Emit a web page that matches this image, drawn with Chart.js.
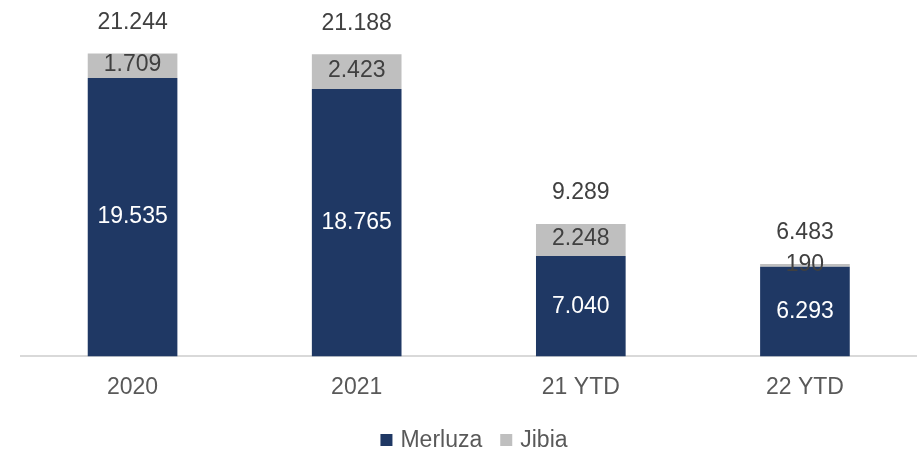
<!DOCTYPE html>
<html>
<head>
<meta charset="utf-8">
<script src="https://cdn.jsdelivr.net/npm/chart.js@4"></script>
<style>
  html, body { margin: 0; padding: 0; background: #fff; }
  #wrap { width: 917px; height: 452px; }
</style>
</head>
<body>
<div id="wrap"><canvas id="chart"></canvas></div>
<script>
// capturas por periodo (toneladas)
const periodos = ['2020', '2021', '21 YTD', '22 YTD'];
const merluza = [19535, 18765, 7040, 6293];
const jibia = [1709, 2423, 2248, 190];
const totales = [21244, 21188, 9289, 6483];

const colorMerluza = '#1F3864';
const colorJibia = '#BFBFBF';
const fuente = '"Liberation Sans", Arial, sans-serif';

// 21244 -> "21.244"
function formato(v) {
    return String(v).replace(/\B(?=(\d{3})+(?!\d))/g, '.');
}

// etiquetas dentro de cada tramo y total encima de la columna
const etiquetas = {
    id: 'etiquetas',
    afterDatasetsDraw(chart) {
        const ctx = chart.ctx;
        ctx.save();
        ctx.font = '23px ' + fuente;
        ctx.textAlign = 'center';
        ctx.textBaseline = 'middle';
        chart.data.datasets.forEach((ds, i) => {
            const meta = chart.getDatasetMeta(i);
            meta.data.forEach((bar, j) => {
                ctx.fillStyle = i === 0 ? '#FFFFFF' : '#404040';
                const y = (bar.y + bar.base) / 2;
                ctx.fillText(formato(ds.data[j]), bar.x, i === 0 ? y : y - 1);
            });
        });
        const top = chart.getDatasetMeta(1);
        top.data.forEach((bar, j) => {
            ctx.fillStyle = '#404040';
            ctx.fillText(formato(totales[j]), bar.x, bar.y - 31);
        });
        ctx.restore();
    }
};

// leyenda inferior
const leyenda = {
    id: 'leyenda',
    afterDraw(chart) {
        const ctx = chart.ctx;
        ctx.save();
        ctx.font = '23px ' + fuente;
        ctx.textBaseline = 'middle';
        const y = chart.height - 12;
        const items = chart.data.datasets.map(ds => ({ texto: ds.label, color: ds.backgroundColor }));
        const anchos = items.map(it => 12 + 8 + ctx.measureText(it.texto).width);
        const sep = 18;
        const total = anchos.reduce((a, b) => a + b, 0) + sep * (items.length - 1);
        let x = 474 - total / 2;
        items.forEach((it, i) => {
            ctx.fillStyle = it.color;
            ctx.fillRect(x, y - 6, 12, 12);
            ctx.fillStyle = '#595959';
            ctx.fillText(it.texto, x + 20, y + 1);
            x += anchos[i] + sep;
        });
        ctx.restore();
    }
};

new Chart(document.getElementById('chart'), {
    type: 'bar',
    data: {
        labels: periodos,
        datasets: [
            { label: 'Merluza', data: merluza, backgroundColor: colorMerluza },
            { label: 'Jibia', data: jibia, backgroundColor: colorJibia }
        ]
    },
    options: {
        responsive: true,
        maintainAspectRatio: false,
        animation: false,
        // el eje horizontal sigue hasta el borde derecho
        layout: { padding: { top: 0, left: 20.5, right: -3.5, bottom: 34 } },
        datasets: {
            bar: { categoryPercentage: 1, barPercentage: 0.4 }
        },
        plugins: {
            legend: { display: false },
            tooltip: { enabled: false }
        },
        scales: {
            x: {
                stacked: true,
                grid: { display: false, drawTicks: false },
                border: { color: '#D9D9D9', width: 2 },
                ticks: { color: '#595959', font: { family: fuente, size: 23 }, padding: 17 }
            },
            y: {
                stacked: true,
                display: false,
                min: 0,
                max: 25000
            }
        }
    },
    plugins: [etiquetas, leyenda]
});
</script>
</body>
</html>
